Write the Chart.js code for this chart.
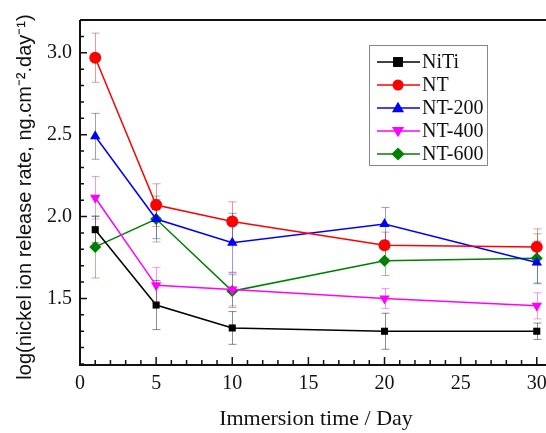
<!DOCTYPE html>
<html>
<head>
<meta charset="utf-8">
<script src="https://cdn.jsdelivr.net/npm/chart.js@4.4.0/dist/chart.umd.min.js"></script>
<style>
  html, body { margin: 0; padding: 0; background: #fff; overflow: hidden; }
  #wrap { width: 560px; height: 433px; }
</style>
</head>
<body>
<div id="wrap"><canvas id="myChart" width="560" height="433"></canvas></div>
<script>
// datos
const days = [1, 5, 10, 20, 30];
const seriesNames = ['NiTi', 'NT', 'NT-200', 'NT-400', 'NT-600'];
const nitiRate = [1.92, 1.46, 1.32, 1.30, 1.30];
const nitiErr = [0.08, 0.15, 0.10, 0.11, 0.05];
const ntRate = [2.97, 2.07, 1.97, 1.825, 1.815];
const ntErr = [0.15, 0.13, 0.12, 0.08, 0.11];
const nt200Rate = [2.49, 1.985, 1.84, 1.955, 1.72];
const nt200Err = [0.14, 0.12, 0.18, 0.10, 0.13];
const nt400Rate = [2.115, 1.58, 1.555, 1.50, 1.455];
const nt400Err = [0.13, 0.11, 0.10, 0.06, 0.08];
const nt600Rate = [1.815, 1.985, 1.545, 1.73, 1.745];
const nt600Err = [0.19, 0.14, 0.10, 0.09, 0.15];
const xTickLabels = [0, 5, 10, 15, 20, 25, 30];
const yTickLabels = [1.5, 2.0, 2.5, 3.0];

const serif = '"Liberation Serif", "Times New Roman", serif';
const colors = ['#000000', '#ff0000', '#0000ff', '#ff00ff', '#008000'];
const errColors = ['rgba(0,0,0,0.45)', 'rgba(200,0,0,0.4)', 'rgba(0,0,220,0.4)', 'rgba(220,0,220,0.4)', 'rgba(0,110,0,0.4)'];
const styles = ['rect', 'circle', 'triangle', 'triangle', 'rectRot'];
const rotations = [0, 0, 0, 180, 0];
const allRates = [nitiRate, ntRate, nt200Rate, nt400Rate, nt600Rate];
const allErrs = [nitiErr, ntErr, nt200Err, nt400Err, nt600Err];

function toPoints(vals) {
    return days.map((d, i) => ({ x: d, y: vals[i] }));
}

// Dibuja un marcador simple (para la leyenda)
function drawMarker(ctx, style, rot, x, y, r, color) {
    ctx.save();
    ctx.fillStyle = color;
    ctx.translate(x, y);
    ctx.rotate(rot * Math.PI / 180);
    ctx.beginPath();
    if (style === 'rect') {
        ctx.rect(-r * 0.9, -r * 0.9, r * 1.8, r * 1.8);
    } else if (style === 'circle') {
        ctx.arc(0, 0, r, 0, Math.PI * 2);
    } else if (style === 'triangle') {
        ctx.moveTo(0, -r * 1.15);
        ctx.lineTo(r * 1.1, r * 0.75);
        ctx.lineTo(-r * 1.1, r * 0.75);
        ctx.closePath();
    } else {
        ctx.moveTo(0, -r * 1.2);
        ctx.lineTo(r * 1.2, 0);
        ctx.lineTo(0, r * 1.2);
        ctx.lineTo(-r * 1.2, 0);
        ctx.closePath();
    }
    ctx.fill();
    ctx.restore();
}

const errorBars = {
    id: 'errorBars',
    beforeDatasetsDraw(chart) {
        const ctx = chart.ctx;
        const xs = chart.scales.x, ys = chart.scales.y;
        ctx.save();
        ctx.lineWidth = 1;
        chart.data.datasets.forEach((ds, k) => {
            ctx.strokeStyle = errColors[k];
            ds.data.forEach((p, i) => {
                const e = ds.errors[i];
                const px = Math.round(xs.getPixelForValue(p.x)) + 0.5;
                const top = ys.getPixelForValue(p.y + e);
                const bot = ys.getPixelForValue(p.y - e);
                ctx.beginPath();
                ctx.moveTo(px, top); ctx.lineTo(px, bot);
                ctx.moveTo(px - 4, top); ctx.lineTo(px + 4, top);
                ctx.moveTo(px - 4, bot); ctx.lineTo(px + 4, bot);
                ctx.stroke();
            });
        });
        ctx.restore();
    }
};

const frameTicks = {
    id: 'frameTicks',
    beforeDatasetsDraw(chart) {
        const ctx = chart.ctx;
        const a = chart.chartArea;
        const xs = chart.scales.x, ys = chart.scales.y;
        ctx.save();
        ctx.strokeStyle = '#111';
        ctx.lineWidth = 2;
        ctx.beginPath();
        ctx.moveTo(a.left, a.top); ctx.lineTo(a.right, a.top);
        ctx.lineTo(a.right, a.bottom);
        ctx.moveTo(a.left, a.top); ctx.lineTo(a.left, a.bottom + 1); ctx.lineTo(a.right, a.bottom + 1);
        ctx.stroke();
        ctx.lineWidth = 1.5;
        ctx.beginPath();
        for (let v = 0; v <= xs.max; v++) {
            const px = xs.getPixelForValue(v);
            const len = v % 5 === 0 ? 7 : 4;
            ctx.moveTo(px, a.bottom); ctx.lineTo(px, a.bottom - len);
        }
        for (let n = 11; n <= 32; n++) {
            const py = ys.getPixelForValue(n / 10);
            const len = n % 5 === 0 ? 7 : 4;
            ctx.moveTo(a.left, py); ctx.lineTo(a.left + len, py);
        }
        ctx.stroke();
        ctx.restore();
    }
};

const boxLegend = {
    id: 'boxLegend',
    afterDraw(chart) {
        const ctx = chart.ctx;
        const o = chart.options.plugins.boxLegend;
        ctx.save();
        ctx.fillStyle = '#fff';
        ctx.fillRect(o.x, o.y, o.w, o.h);
        ctx.strokeStyle = '#888';
        ctx.lineWidth = 1;
        ctx.strokeRect(o.x + 0.5, o.y + 0.5, o.w, o.h);
        chart.data.datasets.forEach((ds, k) => {
            const y = o.y + o.first + k * o.step;
            ctx.strokeStyle = colors[k];
            ctx.lineWidth = 1.5;
            ctx.beginPath();
            ctx.moveTo(o.x + 8, y); ctx.lineTo(o.x + 51, y);
            ctx.stroke();
            drawMarker(ctx, styles[k], rotations[k], o.x + 29, y, 5.5, colors[k]);
            ctx.fillStyle = '#111';
            ctx.font = '20px ' + serif;
            ctx.textBaseline = 'middle';
            ctx.fillText(ds.label, o.x + 53, y + 1);
        });
        ctx.restore();
    }
};

const yTitle = {
    id: 'yTitle',
    afterDraw(chart) {
        const ctx = chart.ctx;
        const o = chart.options.plugins.yTitle;
        ctx.save();
        ctx.translate(o.x, o.y);
        ctx.rotate(-Math.PI / 2);
        ctx.font = o.font;
        ctx.fillStyle = '#111';
        ctx.textAlign = 'center';
        ctx.textBaseline = 'middle';
        ctx.fillText(o.text, 0, 0);
        ctx.restore();
    }
};

const datasets = seriesNames.map((name, k) => ({
    label: name,
    data: toPoints(allRates[k]),
    errors: allErrs[k],
    borderColor: colors[k],
    backgroundColor: colors[k],
    borderWidth: 1.5,
    pointStyle: styles[k],
    pointRotation: rotations[k],
    pointRadius: styles[k] === 'rect' ? 5 : 6,
    pointBorderWidth: 0,
    pointBackgroundColor: colors[k],
    tension: 0
}));

const ctx = document.getElementById('myChart').getContext('2d');
const myChart = new Chart(ctx, {
    type: 'line',
    data: { datasets: datasets },
    options: {
        responsive: false,
        animation: false,
        layout: { padding: { top: 15, right: 8, left: 0, bottom: 0 } },
        plugins: {
            legend: { display: false },
            tooltip: { enabled: false },
            boxLegend: { x: 369, y: 45, w: 118, h: 120, first: 17, step: 23 },
            yTitle: {
                x: 25, y: 197,
                font: '20px "Liberation Sans", Arial, sans-serif',
                text: 'log(nickel ion release rate, ng.cm\u207B\u00B2.day\u207B\u00B9)'
            }
        },
        scales: {
            x: {
                type: 'linear',
                min: 0,
                max: 31,
                grid: { display: false, drawTicks: false },
                border: { display: false },
                afterBuildTicks: s => { s.ticks = xTickLabels.map(v => ({ value: v })); },
                afterFit: s => { s.height = 69; },
                ticks: { color: '#111', padding: 8, font: { family: serif, size: 20 } },
                title: {
                    display: true,
                    text: 'Immersion time / Day',
                    color: '#111',
                    font: { family: serif, size: 22 },
                    padding: { top: 0, bottom: 1 }
                }
            },
            y: {
                min: 1.1,
                max: 3.2,
                grid: { display: false, drawTicks: false },
                border: { display: false },
                afterBuildTicks: s => { s.ticks = yTickLabels.map(v => ({ value: v })); },
                afterFit: s => { s.width = 80; },
                ticks: {
                    color: '#111', padding: 8,
                    font: { family: serif, size: 20 },
                    callback: v => Number(v).toFixed(1)
                }
            }
        }
    },
    plugins: [frameTicks, errorBars, boxLegend, yTitle]
});
</script>
</body>
</html>
